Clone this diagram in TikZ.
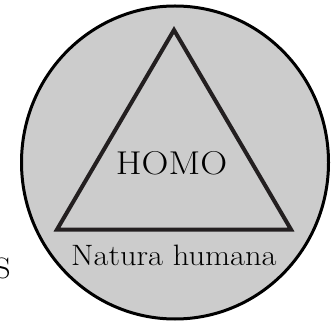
\documentclass[tikz,border=0pt]{standalone}
\begin{document}
\begin{tikzpicture}[x=1pt,y=-1pt,
  disc/.style={draw=black,fill={rgb,255:red,204;green,204;blue,204},line width=3pt},
  tri/.style={draw={rgb,255:red,35;green,31;blue,32},line width=4pt,line join=miter},
  bigtext/.style={inner sep=0pt,font=\fontsize{33}{34}\selectfont},
  midtext/.style={inner sep=0pt,font=\fontsize{29.5}{30}\selectfont}]
\useasboundingbox (0,0) rectangle (331,328);
\draw[disc] (175,162.5) ellipse [x radius=153.5, y radius=156.5];
\coordinate (apex) at (174,30);
\coordinate (bl) at (57,229.5);
\coordinate (br) at (291,229.5);
\draw[tri] (apex) -- (bl) -- (br) -- cycle;
\node[bigtext,anchor=base] (homo) at (171.5,175) {\scalebox{1.13}[1]{HOMO}};
\node[midtext,anchor=base west] (nat) at (71,265) {\scalebox{1.1}[1]{Natura humana}};
\node[midtext,anchor=base east] (s) at (11,278) {\scalebox{1.1}[1]{S}};
\end{tikzpicture}
\end{document}
